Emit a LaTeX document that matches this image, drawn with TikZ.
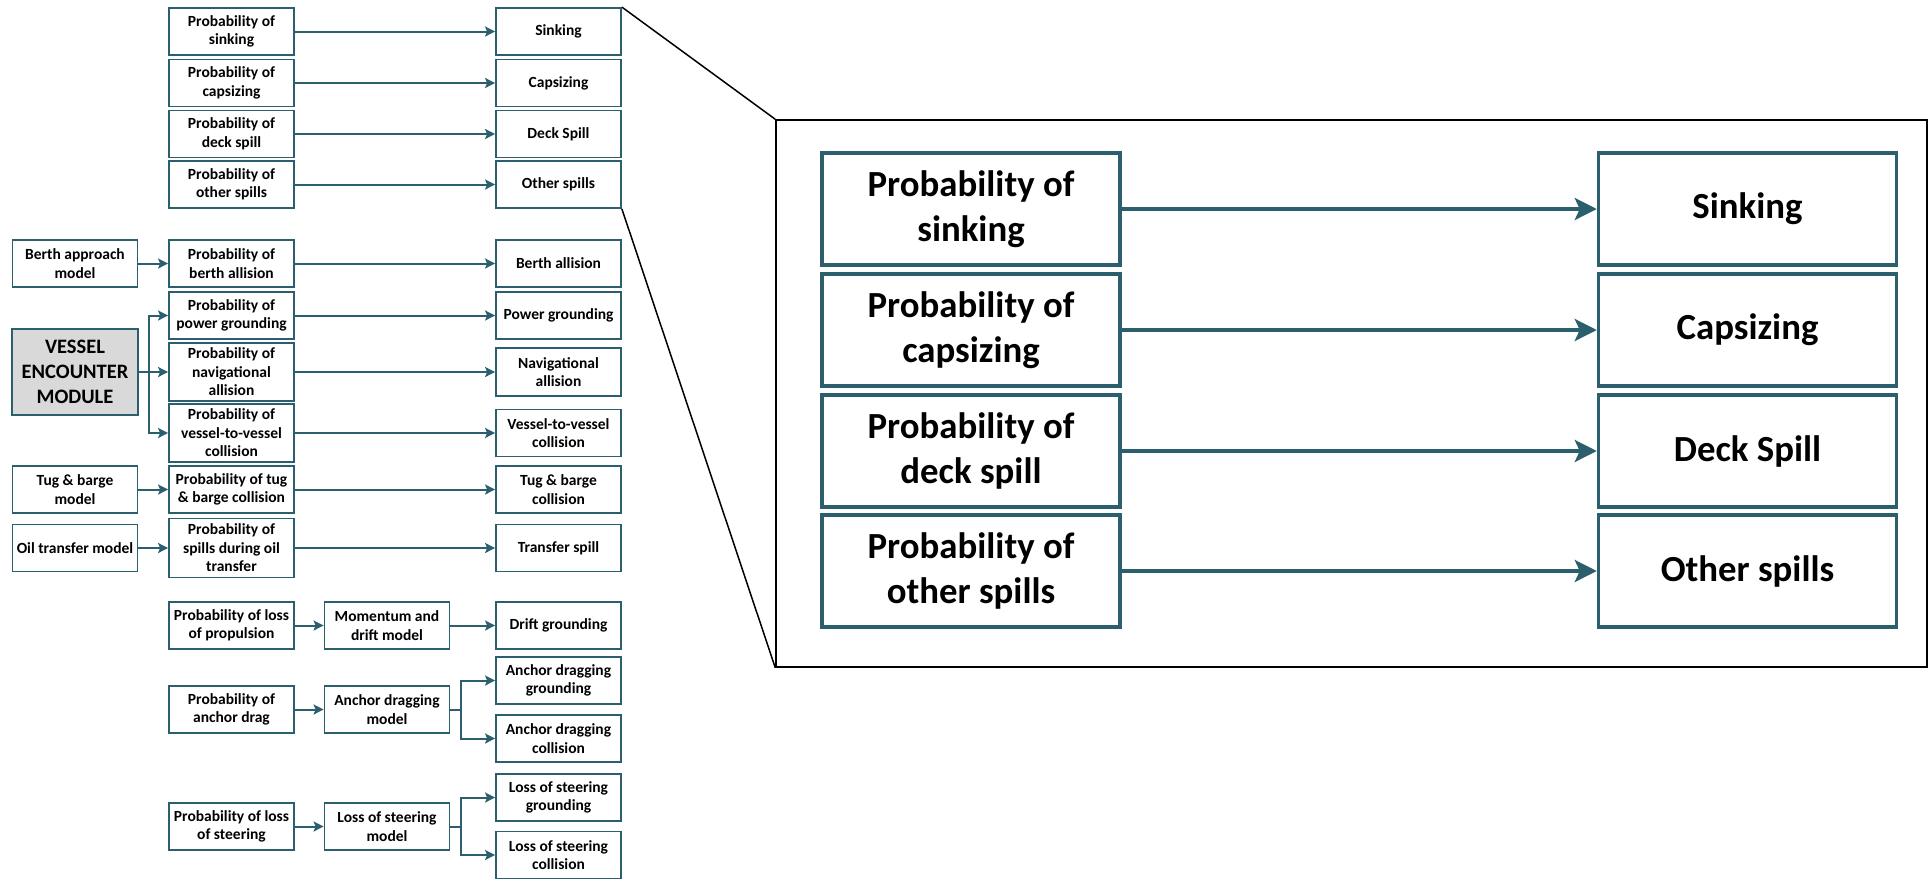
\documentclass[tikz,border=0pt]{standalone}
\usepackage{fontspec}
\setmainfont{Carlito}
\usetikzlibrary{arrows.meta}
\definecolor{tealline}{RGB}{44,95,110}
\definecolor{modgray}{RGB}{217,217,217}
\newcommand\boxfont{\fontsize{15.5}{18.5}\selectfont\bfseries}
\newcommand\modfont{\fontsize{20.5}{25}\selectfont\bfseries}
\newcommand\zoomfont{\fontsize{36.8}{45}\selectfont\bfseries}

\begin{document}
\begin{tikzpicture}[x=1pt,y=-1pt,
  box/.style={draw=tealline,line width=1.8pt,fill=white,minimum width=125pt,minimum height=47pt,inner sep=0pt,align=center,font=\boxfont},
  arr/.style={draw=tealline,line width=2pt,-{Stealth[length=10pt,width=10pt,inset=2pt]}},
  zbox/.style={box,line width=3.5pt,minimum width=298pt,minimum height=112pt,font=\zoomfont},
  zarr/.style={draw=tealline,line width=3.5pt,-{Stealth[length=22pt,width=22pt,inset=5pt]}}]
\useasboundingbox (0,0) rectangle (1930,879);
\node[box] (prsink) at (231.5,31.5) {Probability of\\sinking};
\node[box] (prcaps) at (231.5,83) {Probability of\\capsizing};
\node[box] (prdeck) at (231.5,134) {Probability of\\deck spill};
\node[box] (proth) at (231.5,184.5) {Probability of\\other spills};
\node[box] (prberth) at (231.5,263.5) {Probability of\\berth allision};
\node[box] (prpower) at (231.5,315.5) {Probability of\\power grounding};
\node[box,minimum height=58pt] (prnav) at (231.5,372) {Probability of\\navigational\\allision};
\node[box,minimum height=58pt] (prvv) at (231.5,433) {Probability of\\vessel-to-vessel\\collision};
\node[box] (prtug) at (231.5,489.5) {Probability of tug\\\& barge collision};
\node[box,minimum height=59pt] (proil) at (231.5,548) {Probability of\\spills during oil\\transfer};
\node[box] (prprop) at (231.5,625.5) {Probability of loss\\of propulsion};
\node[box] (pranchor) at (231.5,709.5) {Probability of\\anchor drag};
\node[box] (prsteer) at (231.5,826.5) {Probability of loss\\of steering};
\node[box] (sink) at (558.5,31.5) {Sinking};
\node[box] (caps) at (558.5,83) {Capsizing};
\node[box] (deck) at (558.5,134) {Deck Spill};
\node[box] (oth) at (558.5,184.5) {Other spills};
\node[box] (berth) at (558.5,263.5) {Berth allision};
\node[box] (power) at (558.5,315.5) {Power grounding};
\node[box,minimum height=48pt] (nav) at (558.5,372) {Navigational\\allision};
\node[box] (vv) at (558.5,433) {Vessel-to-vessel\\collision};
\node[box] (tug) at (558.5,489.5) {Tug \& barge\\collision};
\node[box] (transfer) at (558.5,548) {Transfer spill};
\node[box] (drift) at (558.5,625.5) {Drift grounding};
\node[box] (anchgr) at (558.5,680.5) {Anchor dragging\\grounding};
\node[box] (anchcol) at (558.5,738.5) {Anchor dragging\\collision};
\node[box] (steergr) at (558.5,797.5) {Loss of steering\\grounding};
\node[box] (steercol) at (558.5,855) {Loss of steering\\collision};
\node[box] (berthmod) at (75,263.5) {Berth approach\\model};
\node[box,fill=modgray,minimum width=126pt,minimum height=86pt,font=\modfont] (vem) at (75,372) {VESSEL\\ENCOUNTER\\MODULE};
\node[box] (tugmod) at (75,489.5) {Tug \& barge\\model};
\node[box] (oilmod) at (75,548) {Oil transfer model};
\node[box] (momod) at (387,625.5) {Momentum and\\drift model};
\node[box] (anchmod) at (387,709.5) {Anchor dragging\\model};
\node[box] (steermod) at (387,826.5) {Loss of steering\\model};
\coordinate (vsplit) at (149,372);
\coordinate (asplit) at (461,709.5);
\coordinate (ssplit) at (461,826.5);
\draw[arr] (prsink.east) -- (sink.west);
\draw[arr] (prcaps.east) -- (caps.west);
\draw[arr] (prdeck.east) -- (deck.west);
\draw[arr] (proth.east) -- (oth.west);
\draw[arr] (prberth.east) -- (berth.west);
\draw[arr] (prpower.east) -- (power.west);
\draw[arr] (prnav.east) -- (nav.west);
\draw[arr] (prvv.east) -- (vv.west);
\draw[arr] (prtug.east) -- (tug.west);
\draw[arr] (proil.east) -- (transfer.west);
\draw[arr] (berthmod.east) -- (prberth.west);
\draw[arr] (vem.east) -- (prnav.west);
\draw[arr] (vsplit) |- (prpower.west);
\draw[arr] (vsplit) |- (prvv.west);
\draw[arr] (tugmod.east) -- (prtug.west);
\draw[arr] (oilmod.east) -- (proil.west);
\draw[arr] (prprop.east) -- (momod.west);
\draw[arr] (momod.east) -- (drift.west);
\draw[arr] (pranchor.east) -- (anchmod.west);
\draw[tealline,line width=2pt] (anchmod.east) -- (asplit);
\draw[arr] (asplit) |- (anchgr.west);
\draw[arr] (asplit) |- (anchcol.west);
\draw[arr] (prsteer.east) -- (steermod.west);
\draw[tealline,line width=2pt] (steermod.east) -- (ssplit);
\draw[arr] (ssplit) |- (steergr.west);
\draw[arr] (ssplit) |- (steercol.west);
\node[draw=black,line width=1.5pt,minimum width=1151pt,minimum height=547pt,inner sep=0pt] (frame) at (1351.5,393.5) {};
\draw[black,line width=1.5pt] (sink.north east) -- (frame.north west);
\draw[black,line width=1.5pt] (oth.south east) -- (frame.south west);
\node[zbox] (zprsink) at (971,209) {Probability of\\sinking};
\node[zbox] (zprcaps) at (971,330) {Probability of\\capsizing};
\node[zbox] (zprdeck) at (971,451) {Probability of\\deck spill};
\node[zbox] (zproth) at (971,571) {Probability of\\other spills};
\node[zbox] (zsink) at (1747.5,209) {Sinking};
\node[zbox] (zcaps) at (1747.5,330) {Capsizing};
\node[zbox] (zdeck) at (1747.5,451) {Deck Spill};
\node[zbox] (zoth) at (1747.5,571) {Other spills};
\draw[zarr] (zprsink.east) -- (zsink.west);
\draw[zarr] (zprcaps.east) -- (zcaps.west);
\draw[zarr] (zprdeck.east) -- (zdeck.west);
\draw[zarr] (zproth.east) -- (zoth.west);
\end{tikzpicture}
\end{document}
